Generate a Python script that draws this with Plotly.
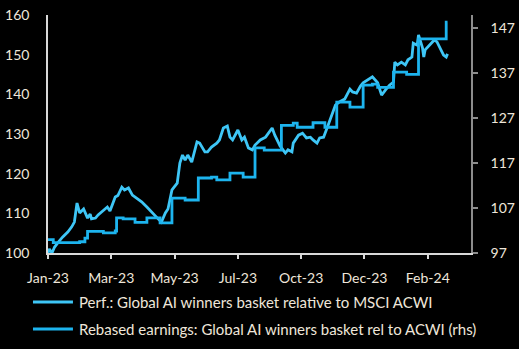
import plotly.graph_objects as go

# Trading-day index and relative performance (lhs, rebased to 100)
perf_day = [0, 1, 3, 5, 8, 11, 15, 18, 20, 22, 24, 27, 30, 32, 33, 36, 38, 42, 45, 47,
            49, 51, 53, 56, 58, 61, 64, 67, 71, 75, 79, 83, 86, 89, 91, 94, 98, 100, 102,
            104, 106, 109, 113, 115, 119, 121, 124, 128, 130, 133, 136, 138, 140, 144, 147,
            149, 152, 155, 157, 161, 165, 168, 170, 172, 176, 180, 182, 185, 186, 190, 193,
            196, 199, 201, 204, 206, 209, 212, 215, 218, 221, 225, 229, 231, 234, 237, 239,
            242, 246, 250, 253, 256, 259, 262, 263, 265, 268, 271, 273, 276, 277, 280, 281,
            284, 285, 286, 288, 291, 293, 295, 297, 300, 302, 303]
perf_val = [100.0, 101.0, 100.0, 101.5, 102.8, 104.0, 105.3, 106.6, 107.8, 112.6, 110.1,
            111.1, 108.8, 109.8, 108.6, 108.8, 109.6, 110.8, 111.6, 110.6, 112.6, 114.1,
            114.5, 116.6, 115.9, 116.4, 114.6, 113.9, 112.9, 111.6, 110.1, 108.8, 107.8,
            110.1, 111.1, 115.9, 117.6, 122.7, 124.7, 123.4, 124.7, 122.9, 128.0, 127.7,
            125.5, 125.5, 126.7, 127.7, 128.5, 131.5, 132.0, 129.2, 128.5, 131.0, 128.5,
            129.2, 126.5, 126.0, 127.2, 128.5, 129.2, 130.5, 131.5, 129.7, 127.0, 125.2,
            126.0, 125.5, 127.7, 129.7, 130.2, 129.0, 129.2, 128.5, 127.7, 129.0, 129.2,
            131.8, 134.3, 137.3, 138.1, 138.8, 141.3, 140.6, 140.3, 142.1, 142.9, 143.6,
            144.4, 142.9, 139.8, 141.1, 142.3, 143.1, 148.1, 147.4, 148.1, 147.4, 148.7,
            149.4, 152.9, 152.4, 155.0, 151.7, 149.4, 151.2, 151.9, 152.9, 153.7, 153.2,
            151.7, 149.9, 149.4, 150.2]

# Rebased relative earnings (rhs), values at each revision date
earn_day = [0, 4, 24, 28, 30, 42, 51, 52, 57, 66, 75, 85, 94, 104, 114, 124, 128, 138,
            148, 157, 164, 177, 186, 189, 201, 210, 219, 229, 239, 246, 250, 262, 272,
            281, 302, 303]
earn_val = [100.0, 99.3, 99.5, 100.3, 101.8, 101.5, 101.9, 104.8, 104.6, 103.8, 104.8,
            103.7, 109.2, 108.8, 113.7, 113.9, 113.3, 114.8, 113.9, 120.4, 119.9, 125.4,
            125.9, 125.0, 126.0, 125.0, 130.6, 129.5, 134.4, 134.6, 133.9, 137.3, 136.8,
            144.7, 148.4, 148.4]

tick_days = [0, 48, 96, 144, 192, 240, 288]
tick_labels = ["Jan-23", "Mar-23", "May-23", "Jul-23", "Oct-23", "Dec-23", "Feb-24"]
lhs_ticks = [100, 110, 120, 130, 140, 150, 160]
rhs_ticks = [97, 107, 117, 127, 137, 147]

series_names = [
    "Perf.: Global AI winners basket relative to MSCI ACWI",
    "Rebased earnings: Global AI winners basket rel to ACWI (rhs)",
]
series_colors = ["#3EC6F6", "#1DB4EE"]

TEXT = "#EFE6DA"
FONT = "Lato"

fig = go.Figure()
fig.add_trace(go.Scatter(
    x=perf_day, y=perf_val, mode="lines", name=series_names[0],
    line=dict(color=series_colors[0], width=2.8),
))
fig.add_trace(go.Scatter(
    x=earn_day, y=earn_val, mode="lines", yaxis="y2", line_shape="hv",
    name=series_names[1],
    line=dict(color=series_colors[1], width=2.8),
))

# Key below the chart: a line sample and a label per series
key_rows = [-0.206, -0.319]
for name, color, yk in zip(series_names, series_colors, key_rows):
    fig.add_shape(type="line", xref="paper", yref="paper",
                  x0=-0.0355, x1=0.059, y0=yk, y1=yk,
                  line=dict(color=color, width=3))
    fig.add_annotation(xref="paper", yref="paper", x=0.068, y=yk,
                       xanchor="left", yanchor="middle", showarrow=False,
                       text=name, font=dict(family=FONT, size=15, color=TEXT))

fig.update_layout(
    width=519, height=349,
    margin=dict(l=48, r=48, t=15, b=96, autoexpand=False),
    paper_bgcolor="#000000", plot_bgcolor="#000000",
    font=dict(family=FONT, size=14, color=TEXT),
    showlegend=False,
    xaxis=dict(
        range=[0, 320.8], tickvals=tick_days, ticktext=tick_labels,
        showgrid=False, zeroline=False,
        showline=True, linecolor="#D9D9D9", linewidth=1.5,
        ticks="outside", ticklen=4, tickcolor="#D9D9D9", tickwidth=1.5,
        ticklabelstandoff=7,
        tickfont=dict(family=FONT, size=14, color=TEXT),
    ),
    yaxis=dict(
        range=[100, 160], tickvals=lhs_ticks,
        showgrid=False, zeroline=False,
        showline=True, linecolor="#D9D9D9", linewidth=1.5,
        ticks="outside", ticklen=14, tickcolor="rgba(0,0,0,0)",
        tickfont=dict(family=FONT, size=14, color=TEXT),
    ),
    yaxis2=dict(
        range=[97, 150], tickvals=rhs_ticks, overlaying="y", side="right",
        showgrid=False, zeroline=False,
        showline=True, linecolor="#8C8C8C", linewidth=1.5,
        ticks="outside", ticklen=5, tickcolor="#8C8C8C", tickwidth=1.5,
        ticklabelstandoff=10,
        tickfont=dict(family=FONT, size=14, color=TEXT),
    ),
)

fig.write_html("out.html")
